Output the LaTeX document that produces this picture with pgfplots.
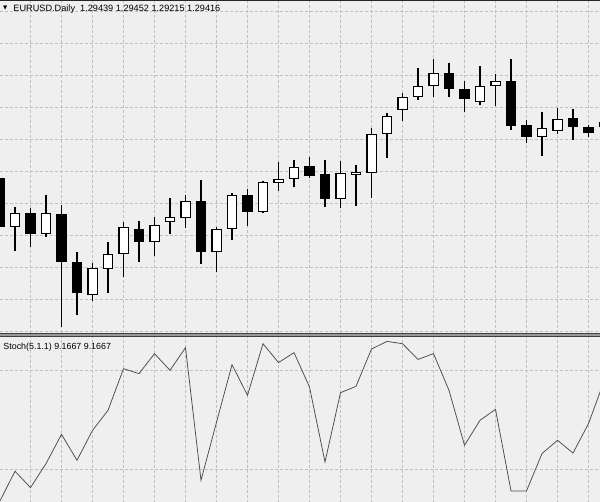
\documentclass[border=0pt]{standalone}
\usepackage{pgfplots}
\pgfplotsset{compat=1.18}
\usepackage{pgfplotstable}
\usepackage{fontspec}
\setmainfont{Liberation Sans}
\newfontfamily\symfont{DejaVu Sans}
\definecolor{bg}{RGB}{239,239,239}
\definecolor{gridc}{RGB}{192,192,192}
\definecolor{stochc}{RGB}{75,75,75}

\pgfplotstableread{
i o h l c
1 1.2843 1.2863 1.2819 1.2857
3 1.2836 1.2875 1.2833 1.2857
6 1.2775 1.2807 1.2769 1.2802
7 1.2801 1.2828 1.2777 1.2816
8 1.2816 1.2848 1.2793 1.2843
10 1.2828 1.2853 1.2814 1.2845
11 1.2848 1.2872 1.2836 1.2853
12 1.2852 1.2875 1.2842 1.2869
14 1.2818 1.2843 1.2798 1.2841
15 1.2841 1.2877 1.2830 1.2875
17 1.2858 1.2889 1.2857 1.2888
18 1.2887 1.2908 1.2879 1.2891
19 1.2891 1.2910 1.2883 1.2903
22 1.2871 1.2909 1.2862 1.2897
23 1.2895 1.2905 1.2864 1.2898
24 1.2897 1.2942 1.2872 1.2936
25 1.2936 1.2957 1.2912 1.2954
26 1.2960 1.2977 1.2949 1.2973
27 1.2973 1.3002 1.2970 1.2984
28 1.2984 1.3011 1.2973 1.2997
31 1.2968 1.3004 1.2965 1.2984
32 1.2984 1.2996 1.2964 1.2989
35 1.2933 1.2958 1.2914 1.2942
36 1.2939 1.2962 1.2936 1.2951
}\whitec

\pgfplotstableread{
i o h l c
0 1.2892 1.2900 1.2835 1.2843
2 1.2857 1.2862 1.2823 1.2836
4 1.2856 1.2865 1.2743 1.2808
5 1.2808 1.2818 1.2755 1.2777
9 1.2841 1.2849 1.2808 1.2828
13 1.2869 1.2890 1.2806 1.2818
16 1.2875 1.2881 1.2844 1.2858
20 1.2904 1.2913 1.2892 1.2894
21 1.2896 1.2910 1.2863 1.2871
29 1.2997 1.3007 1.2973 1.2981
30 1.2981 1.2989 1.2958 1.2971
33 1.2989 1.3011 1.2940 1.2944
34 1.2945 1.2950 1.2927 1.2933
37 1.2952 1.2961 1.2930 1.2943
38 1.2943 1.2945 1.2933 1.2937
39 1.2948 1.2954 1.2938 1.2943
}\blackc

\pgfplotstableread{
i k
0 0.5
1 19.0
2 9.1
3 23.6
4 41.3
5 25.6
6 43.7
7 55.8
8 81.0
9 78.0
10 90.1
11 80.0
12 93.7
13 13.5
14 48.6
15 83.4
16 64.9
17 96.1
18 84.7
19 90.7
20 69.9
21 24.6
22 66.5
23 70.3
24 92.9
25 97.5
26 96.1
27 86.6
28 90.1
29 67.9
30 34.7
31 49.8
32 56.4
33 7.1
34 7.1
35 29.7
36 37.7
37 30.0
38 47.8
39 73.4
}\stoch

\pgfplotsset{
  panel/.style={
    scale only axis, width=600bp, xmin=0.03226, xmax=38.742,
    axis line style={draw=none}, major tick length=0pt,
    xtick={2,4,...,38}, xticklabels={}, yticklabels={},
    grid=major,
    major grid style={gridc, dash pattern=on 3bp off 2bp, line width=0.8bp},
    clip=true, anchor=south west},
  candle/.style={only marks, mark=*, mark size=0pt,
    mark options={draw=none, fill=none},
    error bars/.cd, y dir=plus, y explicit, error mark=none,
    error bar style={#1}},
}

\begin{document}
\begin{tikzpicture}[x=1bp,y=1bp]
\useasboundingbox (0,0) rectangle (600,502);
\clip (0,0) rectangle (600,502);
\fill[bg] (0,0) rectangle (600,502);

\begin{axis}[panel, at={(0,169)}, height=333bp, ymin=1.2737, ymax=1.3070,
  ytick={1.30583,1.30263,1.29943,1.29623,1.29303,1.28983,1.28663,1.28343,1.28023,1.27703,1.27383}]
  % wicks
  \addplot[candle={line width=1.2bp, black}]
    table[x=i, y=l, y error plus expr=\thisrow{h}-\thisrow{l}] {\whitec};
  \addplot[candle={line width=1.2bp, black}]
    table[x=i, y=l, y error plus expr=\thisrow{h}-\thisrow{l}] {\blackc};
  % black bodies
  \addplot[candle={line width=10.4bp, black}]
    table[x=i, y=c, y error plus expr=\thisrow{o}-\thisrow{c}] {\blackc};
  % white bodies
  \addplot[candle={line width=10.4bp, black}]
    table[x=i, y=o, y error plus expr=\thisrow{c}-\thisrow{o}] {\whitec};
  \addplot[candle={line width=8.0bp, white}]
    table[x=i, y expr=\thisrow{o}+0.00012, y error plus expr=\thisrow{c}-\thisrow{o}-0.00024] {\whitec};
\end{axis}

\begin{axis}[panel, at={(0,-0.4)}, height=165.4bp, ymin=0, ymax=100, ytick={20,80}]
  \addplot[stochc, line width=0.75bp, mark=none] table[x=i, y=k] {\stoch};
\end{axis}

% panel frame lines
\draw[line width=1.2bp, black!85] (0,501.4) -- (600,501.4);
\fill[black!40] (0,165.3) rectangle (600,168.7);
\draw[line width=0.9bp, black!75] (0,168.2) -- (600,168.2);
\draw[line width=0.9bp, black!75] (0,165.8) -- (600,165.8);

% captions
\node[anchor=center, inner sep=0pt, font=\symfont\fontsize{5.5}{6}\selectfont] at (5.3,493.6) {▼};
\node[anchor=base west, inner sep=0pt, font=\fontsize{9.2}{11}\selectfont] at (13.3,490.3)
  {EURUSD.Daily\ \ 1.29439 1.29452 1.29215 1.29416};
\node[anchor=base west, inner sep=0pt, font=\fontsize{8.9}{11}\selectfont] at (3.3,152.7)
  {Stoch(5.1.1) 9.1667 9.1667};
\end{tikzpicture}
\end{document}
